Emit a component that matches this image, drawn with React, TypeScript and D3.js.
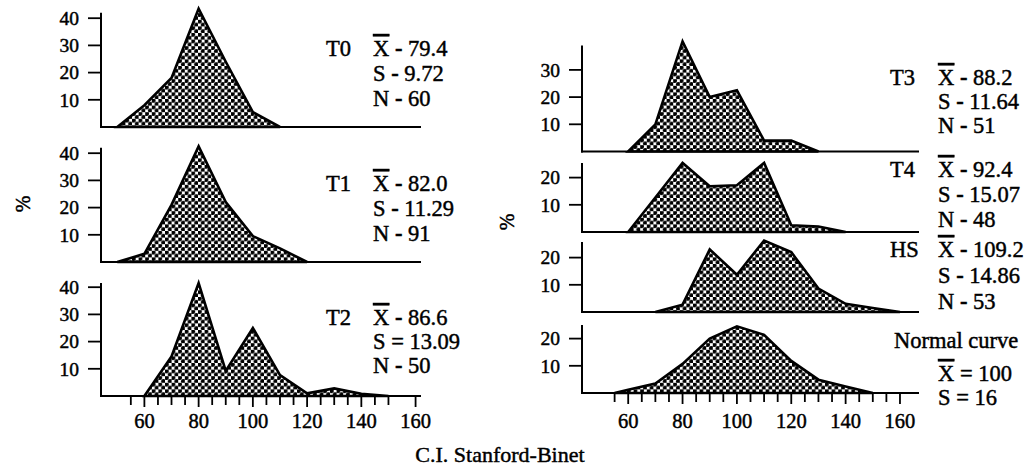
import React from "react";
import * as d3 from "d3";

// ---------------- data ----------------
const t0Score = [50, 60, 70, 80, 90, 100, 110];
const t0Pct = [0, 8, 18, 43.5, 24, 5.5, 0];
const t1Score = [50, 60, 70, 80, 90, 100, 110, 120];
const t1Pct = [0, 3, 21, 42.5, 22, 9.5, 5, 0];
const t2Score = [60, 70, 80, 90, 100, 110, 120, 130, 140, 150];
const t2Pct = [0, 14.5, 41.5, 9.2, 25, 7.7, 1, 2.8, 0.8, 0];
const t3Score = [60, 70, 80, 90, 100, 110, 120, 130];
const t3Pct = [0, 10, 40.5, 20, 22.5, 4, 4, 0];
const t4Score = [60, 70, 80, 90, 100, 110, 120, 130, 140];
const t4Pct = [0, 12.7, 25.4, 16.8, 17.2, 25.4, 2.5, 2, 0];
const hsScore = [70, 80, 90, 100, 110, 120, 130, 140, 150, 160];
const hsPct = [0, 2.7, 23, 13.7, 26.3, 22, 8.6, 3, 1.5, 0];
const normScore = [55, 60, 70, 80, 90, 100, 110, 120, 130, 140, 150];
const normPct = [0, 1.2, 3.5, 10.7, 20, 24.5, 21.4, 11.8, 4.9, 2.4, 0];

const xTickLabels = [60, 80, 100, 120, 140, 160];
const leftMinorTicks = d3.range(55, 151, 5).concat([160]);
const rightMinorTicks = d3.range(55, 161, 5);
const yTicks40 = [10, 20, 30, 40];
const yTicks30 = [10, 20, 30];
const yTicks20 = [10, 20];

const xAxisTitle = "C.I. Stanford-Binet";
const yAxisTitle = "%";

// stats: [symbol, separator, value]
const t0Stats = [["X", "-", "79.4"], ["S", "-", "9.72"], ["N", "-", "60"]];
const t1Stats = [["X", "-", "82.0"], ["S", "-", "11.29"], ["N", "-", "91"]];
const t2Stats = [["X", "-", "86.6"], ["S", "=", "13.09"], ["N", "-", "50"]];
const t3Stats = [["X", "-", "88.2"], ["S", "-", "11.64"], ["N", "-", "51"]];
const t4Stats = [["X", "-", "92.4"], ["S", "-", "15.07"], ["N", "-", "48"]];
const hsStats = [["X", "-", "109.2"], ["S", "-", "14.86"], ["N", "-", "53"]];
const normStats = [["X", "=", "100"], ["S", "=", "16"]];

// ---------------- layout ----------------
const W = 1036;
const H = 470;
const FONT = "'Liberation Serif', 'Times New Roman', serif";
const PX10 = 27.2; // pixels per 10 %
const TEXT_STROKE = 0.45;

const leftX = d3.scaleLinear().domain([44, 162]).range([101, 421]);
const rightX = d3.scaleLinear().domain([43, 167]).range([582, 919]);

type Panel = {
  key: string;
  side: "L" | "R";
  base: number;
  topUnits: number;
  ticks: number[];
  score: number[];
  pct: number[];
  label: string;
  stats: string[][];
  firstLine: number;
  lineGap: number;
  xAxis?: boolean;
  normal?: boolean;
};

const panels: Panel[] = [
  { key: "T0", side: "L", base: 127, topUnits: 42, ticks: yTicks40, score: t0Score, pct: t0Pct, label: "T0", stats: t0Stats, firstLine: 56, lineGap: 25 },
  { key: "T1", side: "L", base: 262, topUnits: 42, ticks: yTicks40, score: t1Score, pct: t1Pct, label: "T1", stats: t1Stats, firstLine: 191, lineGap: 25 },
  { key: "T2", side: "L", base: 396, topUnits: 41.5, ticks: yTicks40, score: t2Score, pct: t2Pct, label: "T2", stats: t2Stats, firstLine: 325, lineGap: 24, xAxis: true },
  { key: "T3", side: "R", base: 151.5, topUnits: 39, ticks: yTicks30, score: t3Score, pct: t3Pct, label: "T3", stats: t3Stats, firstLine: 85, lineGap: 24 },
  { key: "T4", side: "R", base: 232, topUnits: 25.4, ticks: yTicks20, score: t4Score, pct: t4Pct, label: "T4", stats: t4Stats, firstLine: 177, lineGap: 25 },
  { key: "HS", side: "R", base: 312, topUnits: 25.7, ticks: yTicks20, score: hsScore, pct: hsPct, label: "HS", stats: hsStats, firstLine: 257, lineGap: 26 },
  { key: "NC", side: "R", base: 393, topUnits: 25, ticks: yTicks20, score: normScore, pct: normPct, label: "Normal curve", stats: normStats, firstLine: 348, lineGap: 25, xAxis: true, normal: true },
];

const sideCfg = {
  L: { x: leftX, axisX: 101, endX: 421, labelX: 326, statsX: 373, ticks: leftMinorTicks },
  R: { x: rightX, axisX: 582, endX: 919, labelX: 890, statsX: 938, ticks: rightMinorTicks },
};

function StatLine({ x, y, parts }: { x: number; y: number; parts: string[] }) {
  const [sym, sep, val] = parts;
  return (
    <text x={x} y={y} fontFamily={FONT} fontSize={22.5} fill="#000" stroke="#000" strokeWidth={TEXT_STROKE}>
      {sym === "X" ? (
        <tspan textDecoration="overline" style={{ textDecorationThickness: "2.5px" } as any}>X</tspan>
      ) : (
        <tspan>{sym}</tspan>
      )}
      <tspan fontWeight={sep === "-" ? "bold" : "normal"}>{" " + sep + " "}</tspan>
      <tspan>{val}</tspan>
    </text>
  );
}

function PanelView({ p }: { p: Panel }) {
  const cfg = sideCfg[p.side];
  const x = cfg.x;
  const y = d3.scaleLinear().domain([0, 10]).range([p.base, p.base - PX10]);
  const area = d3
    .area<number>()
    .x((_, i) => x(p.score[i]))
    .y0(p.base)
    .y1((d) => y(d))
    .curve(d3.curveLinear);
  const d = area(p.pct) || "";
  const top = y(p.topUnits);

  const statLines: JSX.Element[] = [];
  if (p.normal) {
    statLines.push(
      <text key="lbl" x={894} y={p.firstLine} fontFamily={FONT} fontSize={22.5} stroke="#000" strokeWidth={TEXT_STROKE}>{p.label}</text>
    );
    statLines.push(<StatLine key="s0" x={cfg.statsX} y={p.firstLine + 33} parts={p.stats[0]} />);
    statLines.push(<StatLine key="s1" x={cfg.statsX} y={p.firstLine + 57} parts={p.stats[1]} />);
  } else {
    statLines.push(
      <text key="lbl" x={cfg.labelX} y={p.firstLine} fontFamily={FONT} fontSize={22.5} stroke="#000" strokeWidth={TEXT_STROKE}>{p.label}</text>
    );
    p.stats.forEach((s, i) =>
      statLines.push(<StatLine key={"s" + i} x={cfg.statsX} y={p.firstLine + i * p.lineGap} parts={s} />)
    );
  }

  return (
    <g>
      <path d={d} fill="url(#dots)" stroke="#000" strokeWidth={2.6} strokeLinejoin="miter" />
      {/* y axis */}
      <line x1={cfg.axisX} x2={cfg.axisX} y1={top} y2={p.base + 1} stroke="#000" strokeWidth={2} />
      {p.ticks.map((t) => (
        <g key={t}>
          <line x1={cfg.axisX - 13} x2={cfg.axisX} y1={y(t)} y2={y(t)} stroke="#000" strokeWidth={1.8} />
          <text x={cfg.axisX - 22} y={y(t)} dy="0.35em" textAnchor="end" fontFamily={FONT} fontSize={19.5} stroke="#000" strokeWidth={TEXT_STROKE}>
            {t}
          </text>
        </g>
      ))}
      {/* baseline */}
      <line x1={cfg.axisX - 1} x2={cfg.endX} y1={p.base} y2={p.base} stroke="#000" strokeWidth={2.2} />
      {p.xAxis && (
        <g>
          {cfg.ticks.map((t) => (
            <line key={t} x1={x(t)} x2={x(t)} y1={p.base} y2={p.base + (t % 20 === 0 ? 11 : 9)} stroke="#000" strokeWidth={1.8} />
          ))}
          {xTickLabels.map((t) => (
            <text key={t} x={x(t)} y={428} textAnchor="middle" fontFamily={FONT} fontSize={20.5} stroke="#000" strokeWidth={TEXT_STROKE}>
              {t}
            </text>
          ))}
        </g>
      )}
      {statLines}
    </g>
  );
}

export default function App() {
  return (
    <svg
      width={W}
      height={H}
      viewBox={`0 0 ${W} ${H}`}
      style={{ position: "absolute", left: 0, top: 0, background: "#fff", display: "block" }}
    >
      <defs>
        <pattern id="dots" width={6.6} height={6.6} patternUnits="userSpaceOnUse">
          <rect width={6.6} height={6.6} fill="#fff" />
          <circle cx={1.65} cy={1.65} r={2.15} fill="#000" />
          <circle cx={4.95} cy={4.95} r={2.15} fill="#000" />
        </pattern>
      </defs>
      <rect width={W} height={H} fill="#fff" />
      {panels.map((p) => (
        <PanelView key={p.key} p={p} />
      ))}
      <text transform="translate(30,204) rotate(-90)" textAnchor="middle" fontFamily={FONT} fontSize={20} stroke="#000" strokeWidth={TEXT_STROKE}>
        {yAxisTitle}
      </text>
      <text transform="translate(514,222) rotate(-90)" textAnchor="middle" fontFamily={FONT} fontSize={20} stroke="#000" strokeWidth={TEXT_STROKE}>
        {yAxisTitle}
      </text>
      <text x={500} y={462} textAnchor="middle" fontFamily={FONT} fontSize={22} stroke="#000" strokeWidth={TEXT_STROKE}>
        {xAxisTitle}
      </text>
    </svg>
  );
}
